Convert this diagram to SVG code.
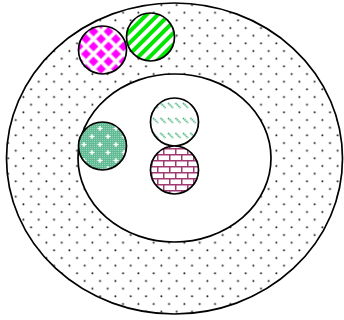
<svg xmlns="http://www.w3.org/2000/svg" width="344" height="320" viewBox="0 0 344 320">
<defs>
<style>
.o{stroke:#000;stroke-width:1.7}
</style>
<pattern id="dots" width="15.33" height="15.33" patternUnits="userSpaceOnUse">
<circle cx="0.4" cy="12.7" r="1.3" fill="#999" opacity="0.5"/>
<circle cx="15.73" cy="12.7" r="1.3" fill="#999" opacity="0.5"/>
<circle cx="8.07" cy="5.03" r="1.3" fill="#999" opacity="0.5"/>
<circle cx="0.4" cy="12.7" r="0.85" fill="#222"/>
<circle cx="15.73" cy="12.7" r="0.85" fill="#222"/>
<circle cx="8.07" cy="5.03" r="0.85" fill="#222"/>
</pattern>
<pattern id="checkd" width="15" height="15" patternUnits="userSpaceOnUse" x="78.5" y="31.5">
<rect width="15" height="15" fill="#fff"/>
<g fill="#ff00ff" stroke="#ffa0ff" stroke-width="0.8">
<polygon points="7.5,2.5 12.5,7.5 7.5,12.5 2.5,7.5"/>
<polygon points="0,-5 5,0 0,5 -5,0"/>
<polygon points="15,-5 20,0 15,5 10,0"/>
<polygon points="0,10 5,15 0,20 -5,15"/>
<polygon points="15,10 20,15 15,20 10,15"/>
</g>
</pattern>
<pattern id="stripe" width="8" height="8" patternUnits="userSpaceOnUse" patternTransform="rotate(45)">
<rect width="8" height="8" fill="#fff"/>
<rect width="4" height="8" fill="#00e600"/>
</pattern>
<pattern id="dgreen" width="16" height="16" patternUnits="userSpaceOnUse" x="80" y="124">
<rect width="16" height="16" fill="#62bb94"/>
<path d="M0 0.5h16M0 2.5h16M0 4.5h16M0 6.5h16M0 8.5h16M0 10.5h16M0 12.5h16M0 14.5h16" stroke="#b8e3cf" stroke-width="0.6" stroke-dasharray="1 1"/>
<path d="M4 2v5M1.5 4.5h5M12 10v5M9.5 12.5h5" stroke="#fff" stroke-width="1.3"/>
</pattern>
<pattern id="dash" width="7.5" height="15" patternUnits="userSpaceOnUse" x="152" y="100">
<rect width="7.5" height="15" fill="#fff"/>
<path d="M1 3l5 5" stroke="#4fb783" stroke-width="1.8" stroke-dasharray="1.4 0.7"/>
</pattern>
<pattern id="brick" width="12" height="12" patternUnits="userSpaceOnUse" x="151" y="148">
<rect width="12" height="12" fill="#fff"/>
<path d="M0 0.75h12M0 6.75h12M0.75 0v6M6.75 6v6" stroke="#a23a72" stroke-width="1.5"/>
</pattern>
</defs>
<g id="outer">
<ellipse cx="174.5" cy="158.5" rx="168" ry="155.5" fill="url(#dots)" class="o"/>
</g>
<g id="inner">
<ellipse cx="174.5" cy="158" rx="96.5" ry="84" fill="#fff" class="o"/>
</g>
<g id="connectors"></g>
<g id="n-magenta">
<circle cx="102.5" cy="50" r="24" fill="url(#checkd)" class="o"/>
</g>
<g id="n-lime">
<circle cx="150.5" cy="37" r="24" fill="url(#stripe)" class="o"/>
</g>
<g id="n-darkgreen">
<circle cx="102.5" cy="146" r="24" fill="url(#dgreen)" class="o"/>
</g>
<g id="n-dashed">
<circle cx="174.5" cy="122" r="24" fill="url(#dash)" class="o"/>
</g>
<g id="n-brick">
<circle cx="174.5" cy="170" r="24" fill="url(#brick)" class="o"/>
</g>
</svg>
